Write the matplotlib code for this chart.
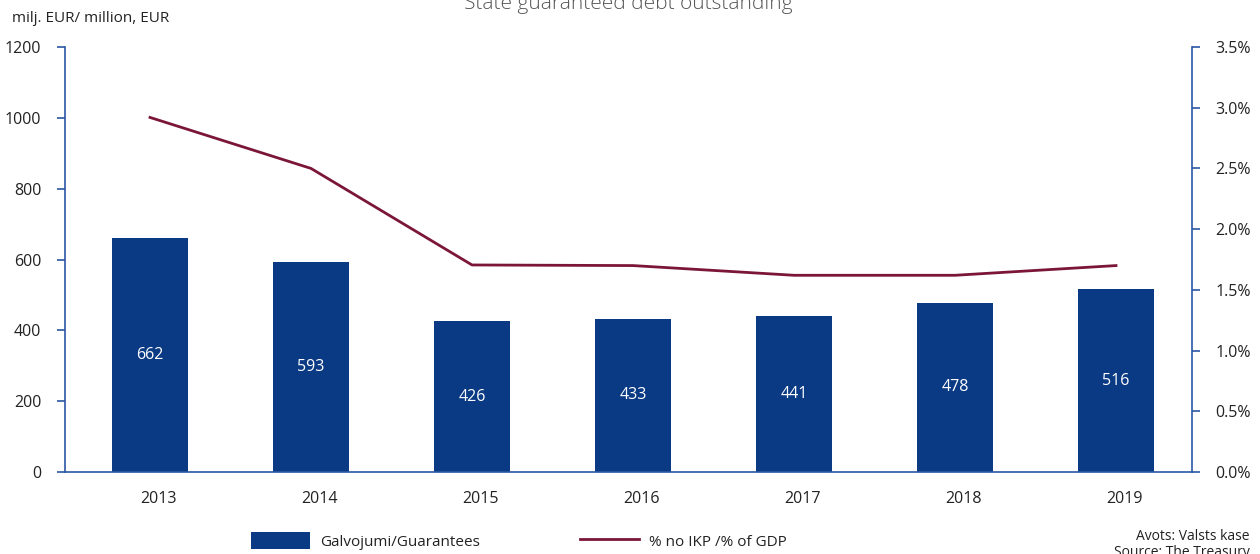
import matplotlib
matplotlib.use("Agg")
import matplotlib.pyplot as plt
from matplotlib.ticker import FuncFormatter

years = ["2013", "2014", "2015", "2016", "2017", "2018", "2019"]
guarantees = [662, 593, 426, 433, 441, 478, 516]
pct_gdp = [2.92, 2.50, 1.705, 1.70, 1.62, 1.62, 1.70]

plt.rcParams['font.family'] = ['Open Sans', 'DejaVu Sans']

BAR = '#0b3a84'
LINE = '#7b1638'
SPINE = '#2a58a3'
TXT = '#222222'
FS = 11.5

fig = plt.figure(figsize=(12.6, 5.54), dpi=100)
ax = fig.add_axes([65/1260, 1-472/554, (1192-65)/1260, (472-47)/554])
x = list(range(len(years)))
bars = ax.bar(x, guarantees, width=0.47, color=BAR, label='Galvojumi/Guarantees', zorder=2)
for xi, v in zip(x, guarantees):
    ax.text(xi, v/2, str(v), ha='center', va='center', color='white', fontsize=FS)

ax.set_xlim(-0.528, 6.472)
ax.set_ylim(0, 1200)
ax.set_yticks(range(0, 1201, 200))
ax.set_xticks([xi + 0.05 for xi in x])
ax.set_xticklabels(years)
ax.tick_params(axis='x', length=0, pad=14, labelsize=FS, labelcolor=TXT)
ax.tick_params(axis='y', length=6, width=1.2, color=SPINE, pad=11, labelsize=FS, labelcolor=TXT)
for s in ['top', 'right']:
    ax.spines[s].set_visible(False)
ax.spines['left'].set_color(SPINE)
ax.spines['left'].set_linewidth(1.2)
ax.spines['bottom'].set_color(SPINE)
ax.spines['bottom'].set_linewidth(1.2)

ax2 = ax.twinx()
ax2.set_ylim(0, 3.5)
ax2.set_yticks([i*0.5 for i in range(8)])
ax2.yaxis.set_major_formatter(FuncFormatter(lambda v, p: f"{v:.1f}%"))
line, = ax2.plot(x, pct_gdp, color=LINE, lw=2, label='% no IKP /% of GDP', zorder=3)
ax2.tick_params(axis='y', length=6, width=1.2, color=SPINE, pad=11, labelsize=FS, labelcolor=TXT)
for s in ['top', 'left', 'bottom']:
    ax2.spines[s].set_visible(False)
ax2.spines['right'].set_color(SPINE)
ax2.spines['right'].set_linewidth(1.2)

fig.text(12/1260, 1-18/554, 'milj. EUR/ million, EUR', fontsize=11, color=TXT, va='center', ha='left')
fig.text(628/1260, 1-4/554, 'State guaranteed debt outstanding', fontsize=15, color='#555555',
         va='center', ha='center', fontweight='light')
fig.text(1250/1260, 1-537/554, 'Avots: Valsts kase', fontsize=10, color=TXT, va='center', ha='right')
fig.text(1250/1260, 1-552/554, 'Source: The Treasury', fontsize=10, color=TXT, va='center', ha='right')

leg = fig.legend(handles=[bars, line], loc='center left', bbox_to_anchor=(251/1260, 1-541/554),
                 ncol=2, frameon=False, fontsize=11, handlelength=3.85, handleheight=1.3,
                 columnspacing=6.6, handletextpad=0.65, borderaxespad=0, borderpad=0)
for t in leg.get_texts():
    t.set_color(TXT)

fig.savefig('out.png', dpi=100)
